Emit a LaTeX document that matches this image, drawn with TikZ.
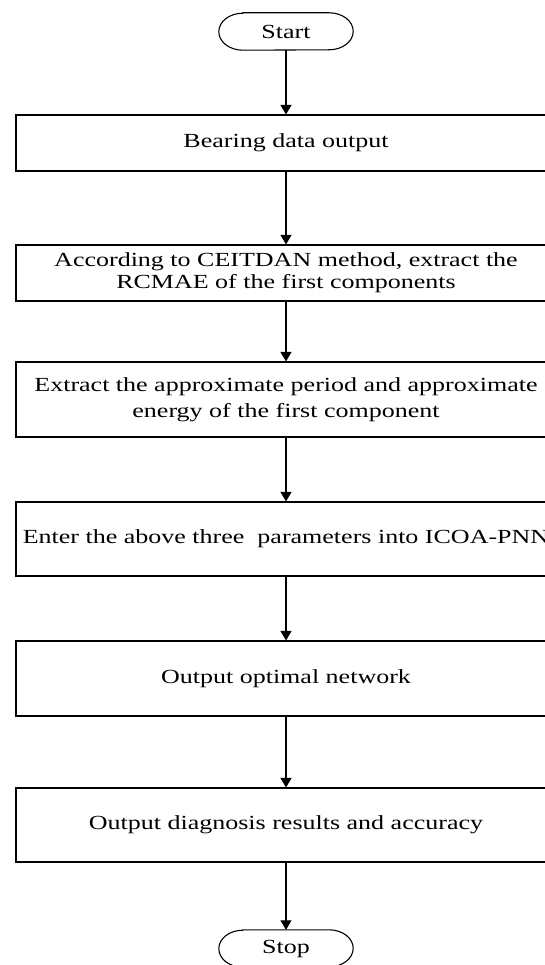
\documentclass[tikz,border=0pt]{standalone}
\usepackage{fontspec}
\setmainfont[FakeStretch=1.3]{Liberation Serif}
\usetikzlibrary{arrows.meta}
\begin{document}
\begin{tikzpicture}[x=1pt,y=-1pt,
  procbox/.style={draw, line width=1.1pt, minimum width=540pt, inner sep=0pt, align=center, font=\fontsize{20}{22}\selectfont},
  term/.style={inner sep=0pt, minimum width=134pt, minimum height=37pt, font=\fontsize{20}{22}\selectfont},
  termline/.style={line width=1.1pt},
  flow/.style={line width=1.1pt, -{Triangle[width=11pt,length=9.5pt]}}]
\useasboundingbox (0,0) rectangle (545,965);
\clip (0,0) rectangle (545,965);
\fill[white] (0,0) rectangle (545,965);

% terminals
\node[term] (start) at (286,31.5) {Start};
\draw[termline] ([xshift=24pt]start.north west) -- ([xshift=-24pt]start.north east)
  arc[start angle=90,end angle=-90,x radius=24pt,y radius=18.5pt]
  -- ([xshift=24pt]start.south west)
  arc[start angle=270,end angle=90,x radius=24pt,y radius=18.5pt] -- cycle;

\node[term] (stop) at (286,948.5) {Stop};
\draw[termline] ([xshift=24pt]stop.north west) -- ([xshift=-24pt]stop.north east)
  arc[start angle=90,end angle=-90,x radius=24pt,y radius=18.5pt]
  -- ([xshift=24pt]stop.south west)
  arc[start angle=270,end angle=90,x radius=24pt,y radius=18.5pt] -- cycle;

% process boxes
\node[procbox, minimum height=56pt] (b1) at (286,143) {Bearing data output};
\node[procbox, minimum height=56pt, font=\fontsize{20}{22}\selectfont] (b2) at (286,273)
  {According to CEITDAN method, extract the\\RCMAE of the first components};
\node[procbox, minimum height=75pt, font=\fontsize{20}{25.7}\selectfont] (b3) at (286,399.5)
  {Extract the approximate period and approximate\\energy of the first component};
\node[procbox, minimum height=74pt] (b4) at (286,539) {Enter the above three~ parameters into ICOA-PNN};
\node[procbox, minimum height=75pt] (b5) at (286,678.5) {Output optimal network};
\node[procbox, minimum height=74pt] (b6) at (286,825) {Output diagnosis results and accuracy};

% connectors
\draw[flow] (start.south) -- (b1.north);
\draw[flow] (b1.south) -- (b2.north);
\draw[flow] (b2.south) -- (b3.north);
\draw[flow] (b3.south) -- (b4.north);
\draw[flow] (b4.south) -- (b5.north);
\draw[flow] (b5.south) -- (b6.north);
\draw[flow] (b6.south) -- (stop.north);
\end{tikzpicture}
\end{document}
